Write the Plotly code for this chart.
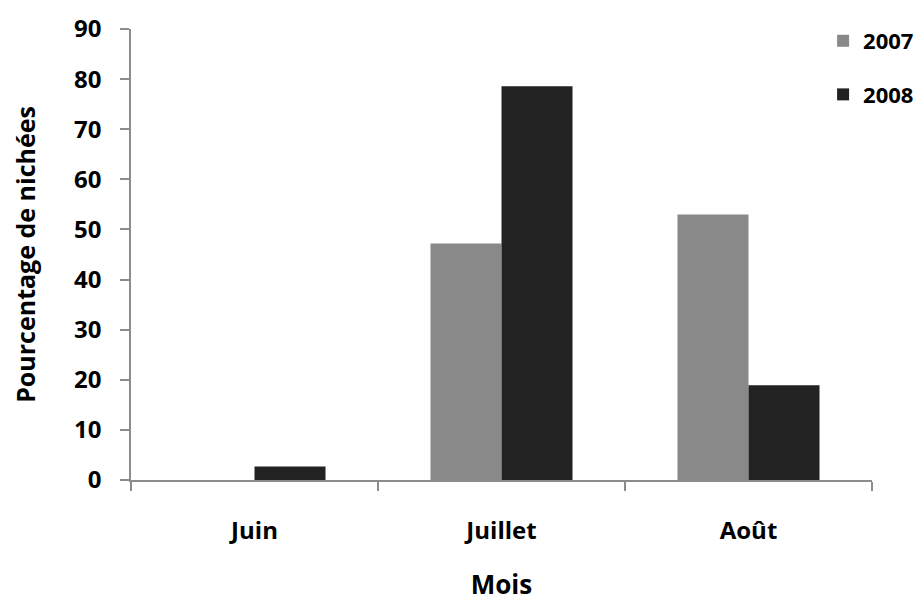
import plotly.graph_objects as go

months = ["Juin", "Juillet", "Août"]
years = ["2007", "2008"]
values_2007 = [0, 47.2, 53.0]
values_2008 = [2.7, 78.6, 18.9]
colors = ["#898989", "#222222"]
y_ticks = list(range(0, 100, 10))

font_family = "Open Sans, Liberation Sans, sans-serif"

fig = go.Figure()
for yr, vals, col in zip(years, [values_2007, values_2008], colors):
    fig.add_trace(go.Bar(
        x=months, y=vals, name=yr, legendgroup=yr,
        marker=dict(color=col, line=dict(width=0)),
    ))

fig.update_layout(
    width=923, height=601,
    margin=dict(l=123, r=43, t=12, b=129),
    paper_bgcolor="white", plot_bgcolor="white",
    barmode="group", bargap=0.425, bargroupgap=0,
    font=dict(family=font_family, size=20, color="#000000"),
    legend=dict(x=0.934, y=1.02, xanchor="left", yanchor="top",
                font=dict(size=22, family=font_family, weight="bold"),
                tracegroupgap=22, bgcolor="rgba(0,0,0,0)"),
    showlegend=True,
)
fig.update_xaxes(
    automargin=False,
    showline=True, linecolor="#8c8c8c", linewidth=1.5,
    ticks="outside", tickson="boundaries", ticklen=9, tickcolor="#8c8c8c", tickwidth=1.5,
    tickfont=dict(size=24, family=font_family, weight="bold"),
    ticklabelstandoff=28,
    title=dict(text="Mois", font=dict(size=26, family=font_family, weight="bold"), standoff=31),
    showgrid=False,
)
fig.update_yaxes(
    automargin=False,
    range=[0, 90], tickvals=y_ticks,
    showline=True, linecolor="#8c8c8c", linewidth=1.5,
    ticks="outside", ticklen=9, tickcolor="#8c8c8c", tickwidth=1.5,
    tickfont=dict(size=24, family=font_family, weight="bold"),
    ticklabelstandoff=14, ticklabeloverflow="allow",
    title=dict(text="Pourcentage de nichées", font=dict(size=25, family=font_family, weight="bold"), standoff=42),
    showgrid=False, zeroline=False,
)

fig.write_html("out.html")
